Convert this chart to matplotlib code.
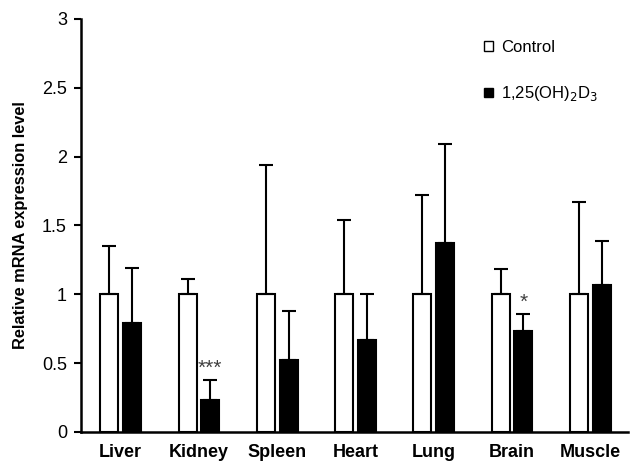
import numpy as np
import matplotlib
matplotlib.use("Agg")
import matplotlib.pyplot as plt
from matplotlib.patches import Patch

plt.rcParams["font.family"] = ["Liberation Sans", "DejaVu Sans"]

tissues = ["Liver", "Kidney", "Spleen", "Heart", "Lung", "Brain", "Muscle"]
control = [1.0, 1.0, 1.0, 1.0, 1.0, 1.0, 1.0]
control_err = [0.35, 0.11, 0.94, 0.54, 0.72, 0.18, 0.67]
treated = [0.79, 0.23, 0.52, 0.67, 1.37, 0.73, 1.07]
treated_err = [0.40, 0.15, 0.36, 0.33, 0.72, 0.13, 0.32]
signif = ["", "***", "", "", "", "*", ""]

x = np.arange(len(tissues))
w = 0.23
off = 0.145

fig = plt.figure(figsize=(6.31, 4.61), dpi=100)
ax = fig.add_axes([0.128, 0.063, 0.867, 0.896])

ax.bar(x - off, control, w, color="white", edgecolor="black", linewidth=1.5,
       yerr=[np.zeros(len(x)), control_err],
       error_kw=dict(ecolor="black", elinewidth=1.5, capsize=5, capthick=1.5))
ax.bar(x + off, treated, w, color="black", edgecolor="black", linewidth=1.5,
       yerr=[np.zeros(len(x)), treated_err],
       error_kw=dict(ecolor="black", elinewidth=1.5, capsize=5, capthick=1.5))

# significance marks above the treated bars
for i, s in enumerate(signif):
    if s:
        ax.annotate(s, (x[i] + off, treated[i] + treated_err[i]), xytext=(0, 1),
                    textcoords="offset points", ha="center", va="bottom",
                    fontsize=15, color="#404040")

ax.set_xlim(-0.51, 6.48)
ax.set_ylim(0, 3)
ax.set_yticks([0, 0.5, 1, 1.5, 2, 2.5, 3])
ax.set_yticklabels(["0", "0.5", "1", "1.5", "2", "2.5", "3"], fontsize=13)
ax.set_xticks(x)
ax.set_xticklabels(tissues, fontsize=13, fontweight="bold")
ax.tick_params(axis="x", length=0, pad=9)
ax.tick_params(axis="y", length=5, width=1.5, direction="out", pad=5)
ax.set_ylabel("Relative mRNA expression level", fontsize=11.8, fontweight="bold", labelpad=10)

for side in ["top", "right"]:
    ax.spines[side].set_visible(False)
for side in ["left", "bottom"]:
    ax.spines[side].set_linewidth(1.8)

handles = [Patch(facecolor="white", edgecolor="black", linewidth=1),
           Patch(facecolor="black", edgecolor="black", linewidth=1)]
ax.legend(handles, ["Control", "1,25(OH)$_2$D$_3$"], loc="upper left",
          bbox_to_anchor=(0.71, 0.985), frameon=False, fontsize=12,
          handlelength=0.5, handleheight=0.5, handletextpad=0.5, labelspacing=1.75)

fig.savefig("out.png", dpi=100)
